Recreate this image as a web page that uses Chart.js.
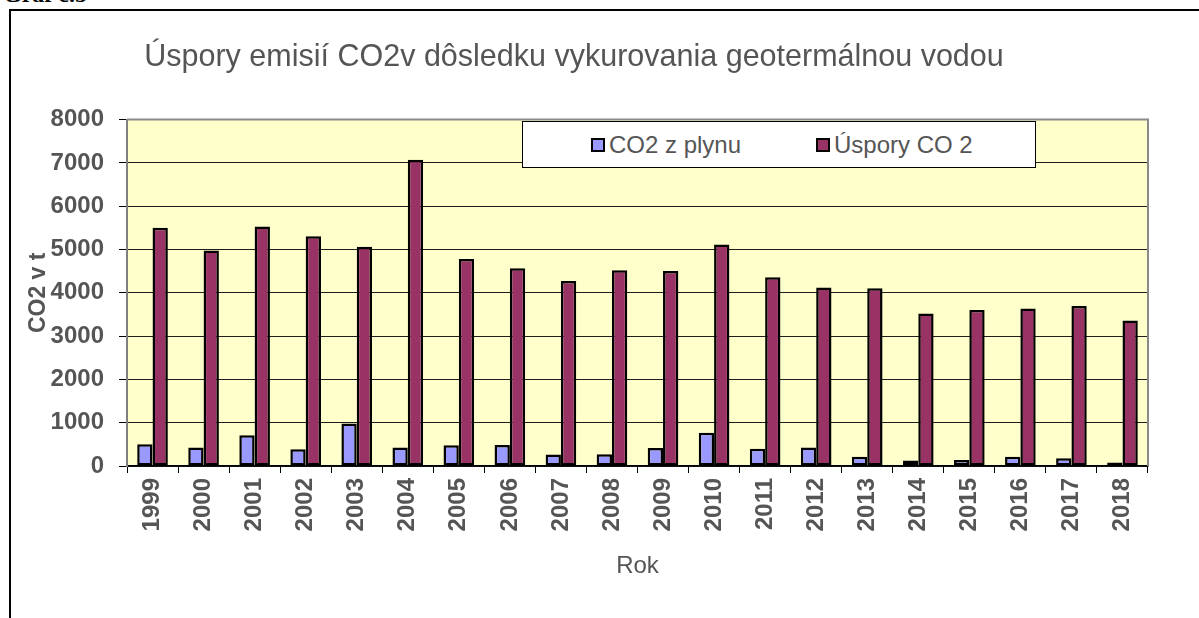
<!DOCTYPE html>
<html>
<head>
<meta charset="utf-8">
<title>Úspory emisií CO2</title>
<script src="https://cdn.jsdelivr.net/npm/chart.js@4/dist/chart.umd.min.js"></script>
<style>
  html, body { margin: 0; padding: 0; background: #fff; }
  body { position: relative; width: 1199px; height: 618px; overflow: hidden; font-family: "Liberation Sans", Arial, sans-serif; }
  #caption { position: absolute; left: 3px; top: -19px; font: bold 24px "Liberation Serif", "Times New Roman", serif; color: #000; }
  #frame { position: absolute; left: 9px; top: 9px; width: 1300px; height: 700px; border: 2px solid #000; }
  #chart { position: absolute; left: 0; top: 0; }
  #legend { position: absolute; left: 522px; top: 121px; width: 512px; height: 45px; background: #fff; border: 1px solid #000; }
  .item { position: absolute; top: 0; height: 45px; line-height: 45px; font-size: 24px; color: #555; white-space: nowrap; }
  .swatch { display: inline-block; width: 10px; height: 10px; border: 2px solid #000; vertical-align: middle; margin: -3px 4px 0 0; }
</style>
</head>
<body>
<div id="caption">Graf č.5</div>
<div id="frame"></div>
<canvas id="chart" width="1199" height="618"></canvas>
<div id="legend"></div>

<script>
// ===== DATA =====
const years = ['1999', '2000', '2001', '2002', '2003', '2004', '2005', '2006', '2007', '2008',
               '2009', '2010', '2011', '2012', '2013', '2014', '2015', '2016', '2017', '2018'];
const co2FromGas = [500, 425, 710, 385, 980, 430, 480, 485, 265, 270,
                    415, 770, 400, 430, 215, 125, 140, 215, 180, 80];
const co2Savings = [5500, 4975, 5530, 5305, 5065, 7075, 4780, 4565, 4275, 4520,
                    4505, 5115, 4360, 4125, 4105, 3520, 3605, 3635, 3695, 3360];
const seriesNames = ['CO2 z plynu', 'Úspory CO 2'];
const yTickValues = [0, 1000, 2000, 3000, 4000, 5000, 6000, 7000, 8000];

const chartTitle = 'Úspory emisií CO2v dôsledku vykurovania geotermálnou vodou';
const yTitle = 'CO2 v t';
const xTitle = 'Rok';

const colors = ['#9999ff', '#993366'];
const textGray = '#555';

// plot background + gray top/right edge like the Excel chart
const plotFrame = {
    id: 'plotFrame',
    beforeDraw(chart) {
        const { ctx, chartArea: a } = chart;
        ctx.save();
        ctx.fillStyle = '#ffffcc';
        ctx.fillRect(a.left, a.top, a.right - a.left, a.bottom - a.top);
        ctx.restore();
    },
    beforeDatasetsDraw(chart) {
        const { ctx, chartArea: a } = chart;
        ctx.save();
        ctx.strokeStyle = '#8a8a8a';
        ctx.lineWidth = 2;
        ctx.beginPath();
        ctx.moveTo(a.left, a.top);
        ctx.lineTo(a.right, a.top);
        ctx.lineTo(a.right, a.bottom);
        ctx.stroke();
        ctx.restore();
    }
};

new Chart(document.getElementById('chart'), {
    type: 'bar',
    data: {
        labels: years,
        datasets: [co2FromGas, co2Savings].map((values, i) => ({
            label: seriesNames[i],
            data: values,
            backgroundColor: colors[i],
            borderColor: '#000',
            borderWidth: 2.5,
            borderSkipped: false,
            categoryPercentage: 0.6,
            barPercentage: 1.0
        }))
    },
    options: {
        responsive: false,
        animation: false,
        devicePixelRatio: 1,
        layout: { padding: { left: 0, right: 51, top: 0, bottom: 0 } },
        plugins: {
            legend: { display: false },
            tooltip: { enabled: false },
            title: {
                display: true,
                text: chartTitle,
                color: textGray,
                font: { family: '"Liberation Sans", Arial, sans-serif', size: 30.5, weight: 'normal' },
                padding: { top: 39, bottom: 44 }
            }
        },
        scales: {
            x: {
                grid: { display: true, drawOnChartArea: false, drawTicks: true, tickLength: 7, tickColor: '#000' },
                border: { color: '#000', width: 1.5 },
                ticks: {
                    autoSkip: false,
                    minRotation: 90,
                    maxRotation: 90,
                    padding: 5,
                    color: textGray,
                    font: { family: '"Liberation Sans", Arial, sans-serif', size: 24, weight: 'bold' }
                },
                title: {
                    display: true,
                    text: xTitle,
                    color: textGray,
                    font: { family: '"Liberation Sans", Arial, sans-serif', size: 24, weight: 'normal' },
                    padding: { top: 0, bottom: 37 }
                },
                afterFit(scale) { scale.height = 152; }
            },
            y: {
                min: 0,
                max: 8000,
                afterBuildTicks(scale) { scale.ticks = yTickValues.map(v => ({ value: v })); },
                grid: { color: '#1e1e1e', lineWidth: 1, tickLength: 8, tickColor: '#000' },
                border: { color: '#808080', width: 2 },
                ticks: {
                    padding: 15,
                    color: textGray,
                    font: { family: '"Liberation Sans", Arial, sans-serif', size: 24, weight: 'bold' },
                    callback: value => String(value)
                },
                title: {
                    display: true,
                    text: yTitle,
                    color: textGray,
                    font: { family: '"Liberation Sans", Arial, sans-serif', size: 23, weight: 'bold' },
                    padding: { top: 25, bottom: 0 }
                },
                afterFit(scale) { scale.width = 127; }
            }
        }
    },
    plugins: [plotFrame]
});

// legend box drawn as html, same place as in the original
const legendBox = document.getElementById('legend');
const legendLeft = [68, 293];
seriesNames.forEach((name, i) => {
    const item = document.createElement('div');
    item.className = 'item';
    item.style.left = legendLeft[i] + 'px';
    item.innerHTML = `<span class="swatch" style="background:${colors[i]}"></span>${name}`;
    legendBox.appendChild(item);
});
</script>
</body>
</html>
